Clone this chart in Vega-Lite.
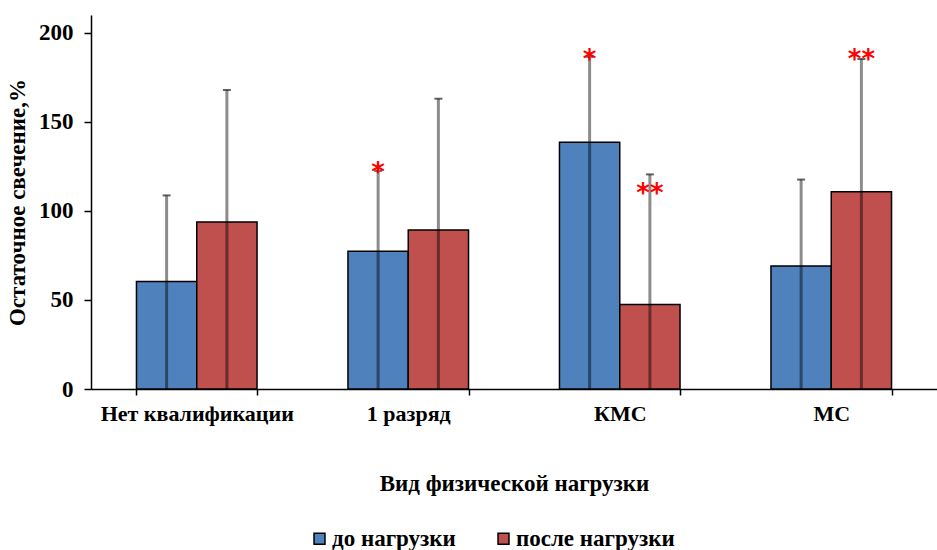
{
  "$schema": "https://vega.github.io/schema/vega-lite/v6.json",
  "width": 846,
  "height": 374,
  "autosize": {"type": "none"},
  "padding": {"left": 91, "top": 15, "right": 0, "bottom": 161},
  "background": "white",
  "config": {
    "view": {"stroke": null},
    "font": "Liberation Serif",
    "axis": {"labelFont": "Liberation Serif", "titleFont": "Liberation Serif", "labelFontWeight": "bold", "titleFontWeight": "bold", "labelColor": "black", "titleColor": "black", "domainColor": "black", "tickColor": "black"}
  },
  "data": {
    "values": [
      {"cat": "Нет квалификации", "group": "до нагрузки", "value": 60.3, "err_top": 108.7, "star": "", "star_y": 0},
      {"cat": "Нет квалификации", "group": "после нагрузки", "value": 93.8, "err_top": 167.9, "star": "", "star_y": 0},
      {"cat": "1 разряд", "group": "до нагрузки", "value": 77.4, "err_top": 122.5, "star": "*", "star_y": 126},
      {"cat": "1 разряд", "group": "после нагрузки", "value": 89.3, "err_top": 163, "star": "", "star_y": 0},
      {"cat": "КМС", "group": "до нагрузки", "value": 138.6, "err_top": 186.5, "star": "*", "star_y": 189},
      {"cat": "КМС", "group": "после нагрузки", "value": 47.5, "err_top": 120.5, "star": "**", "star_y": 114},
      {"cat": "МС", "group": "до нагрузки", "value": 69, "err_top": 117.6, "star": "", "star_y": 0},
      {"cat": "МС", "group": "после нагрузки", "value": 110.8, "err_top": 185.3, "star": "**", "star_y": 189}
    ]
  },
  "encoding": {
    "x": {
      "field": "cat", "type": "nominal", "sort": null,
      "scale": {"paddingInner": 0.43, "paddingOuter": 0.215},
      "axis": {"title": "Вид физической нагрузки", "labelAngle": 0, "labelFontSize": 22, "labelLimit": 0, "titleFontSize": 23, "tickBand": "extent", "tickSize": 6, "tickWidth": 1.5, "domainWidth": 1.5, "labelPadding": 8, "titlePadding": 48}
    },
    "xOffset": {"field": "group", "type": "nominal", "sort": ["до нагрузки", "после нагрузки"]}
  },
  "layer": [
    {
      "mark": {"type": "bar", "stroke": "black", "strokeWidth": 1.5},
      "encoding": {
        "y": {
          "field": "value", "type": "quantitative",
          "scale": {"domain": [0, 210], "nice": false},
          "axis": {"title": "Остаточное свечение,%", "values": [0, 50, 100, 150, 200], "grid": false, "labelFontSize": 23, "titleFontSize": 23, "tickSize": 7, "tickWidth": 1.5, "domainWidth": 1.5, "labelPadding": 11, "titlePadding": 9}
        },
        "color": {
          "field": "group", "type": "nominal",
          "scale": {"domain": ["до нагрузки", "после нагрузки"], "range": ["#4F81BD", "#C0504D"]},
          "legend": {"title": null, "orient": "none", "legendX": 217, "legendY": 512, "direction": "horizontal", "symbolType": "square", "symbolSize": 120, "symbolStrokeColor": "black", "symbolStrokeWidth": 1.5, "labelFont": "Liberation Serif", "labelFontWeight": "bold", "labelFontSize": 23, "labelColor": "black", "columnPadding": 36, "labelOffset": 1, "labelLimit": 0}
        }
      }
    },
    {
      "mark": {"type": "rule", "color": "black", "opacity": 0.45, "strokeWidth": 3},
      "encoding": {
        "y": {"field": "err_top", "type": "quantitative"},
        "y2": {"datum": 0}
      }
    },
    {
      "mark": {"type": "tick", "orient": "horizontal", "color": "#222", "size": 8, "thickness": 2},
      "encoding": {
        "y": {"field": "err_top", "type": "quantitative"}
      }
    },
    {
      "transform": [{"filter": "datum.star != ''"}],
      "mark": {"type": "text", "color": "#FF0000", "font": "DejaVu Sans", "fontSize": 26, "fontWeight": "bold", "baseline": "middle", "dy": 8, "letterSpacing": 4},
      "encoding": {
        "y": {"field": "star_y", "type": "quantitative"},
        "text": {"field": "star", "type": "nominal"}
      }
    }
  ]
}
